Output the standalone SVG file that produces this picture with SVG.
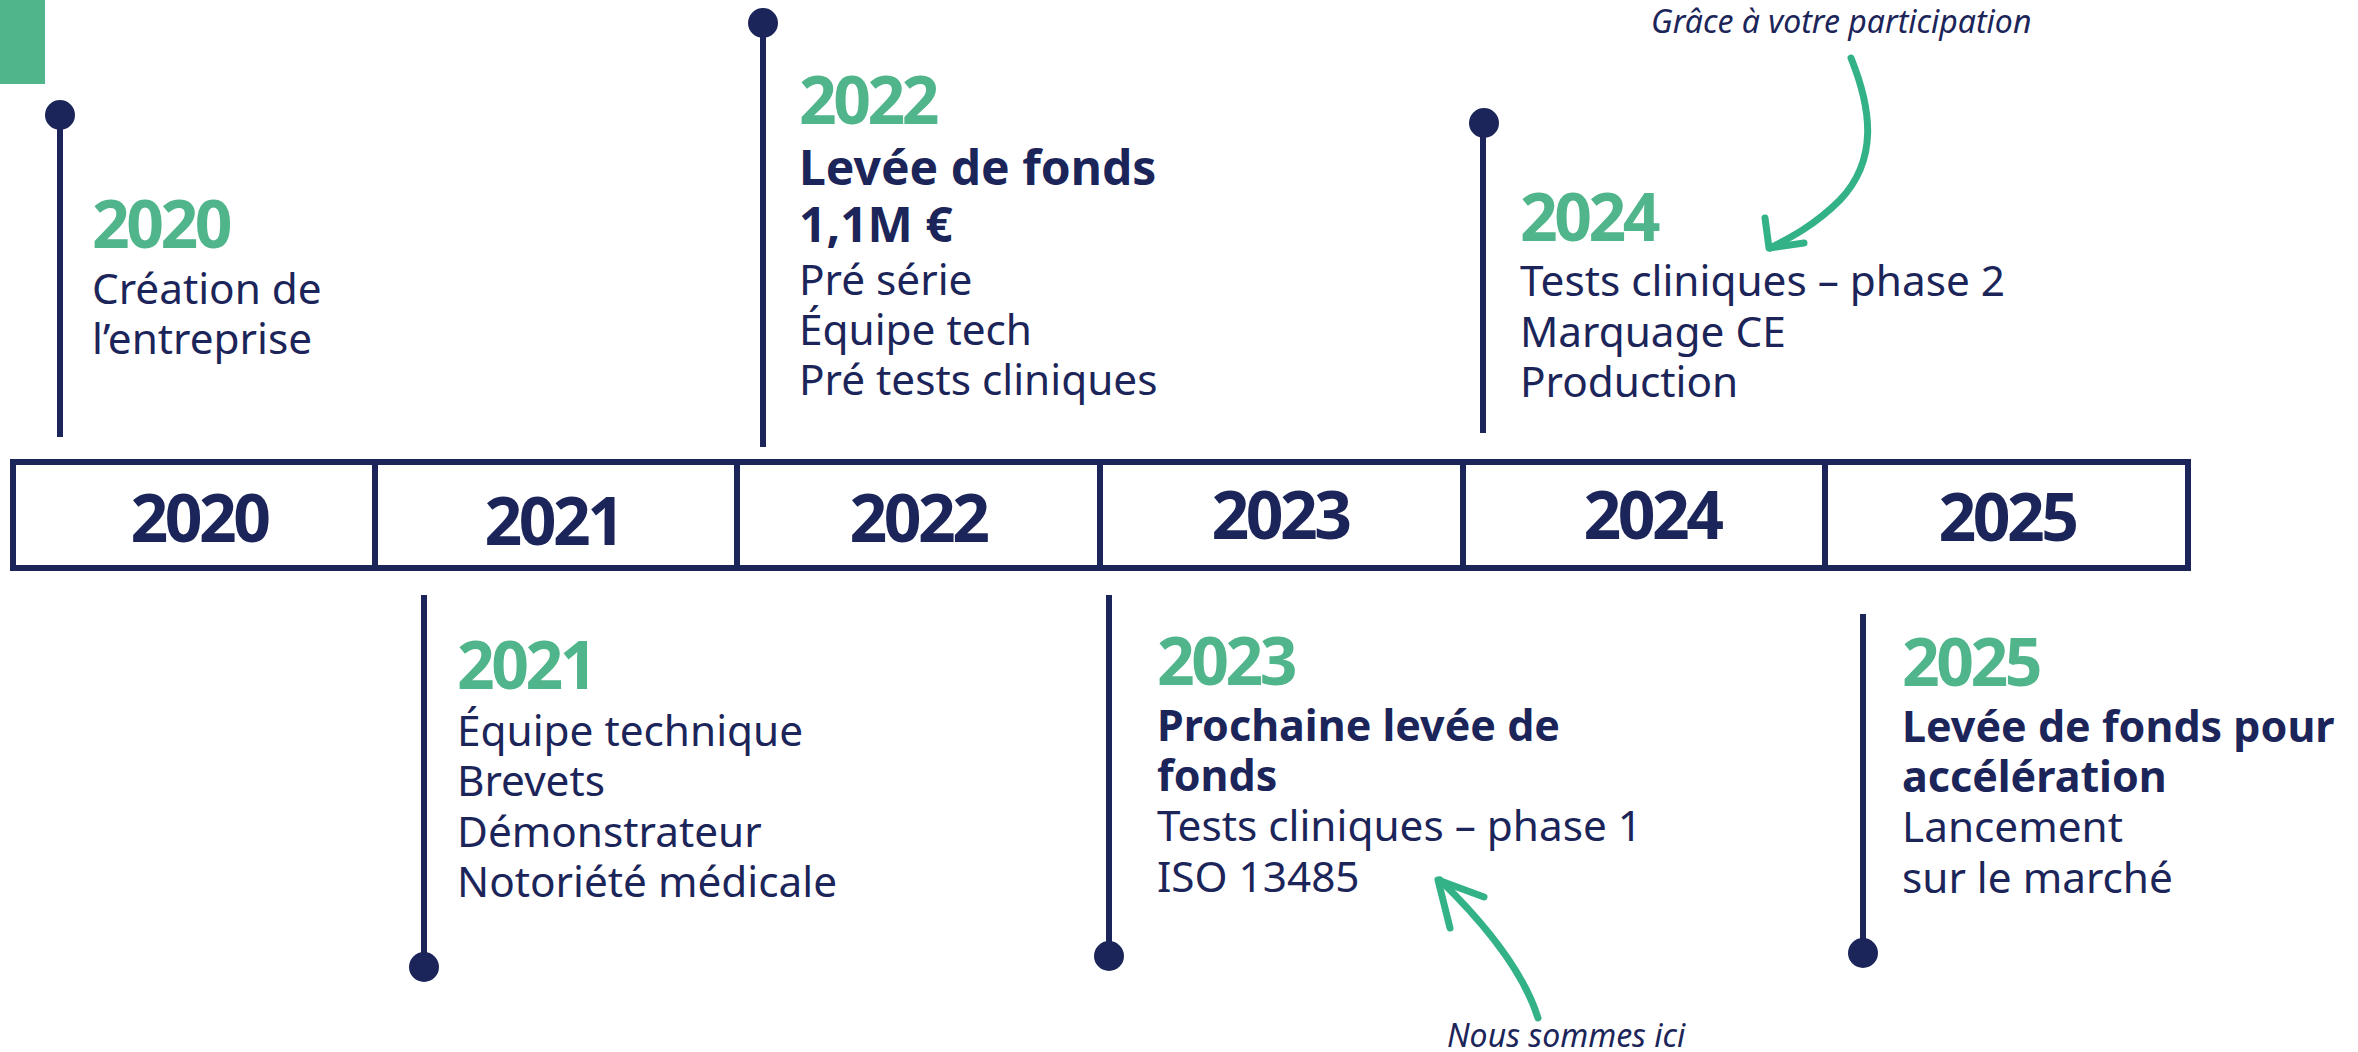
<svg xmlns="http://www.w3.org/2000/svg" width="2358" height="1052" viewBox="0 0 2358 1052">
<style>
text{font-family:"Noto Sans","Open Sans","DejaVu Sans",sans-serif;fill:#1c2559}
.yr{font-size:66px;font-weight:700;fill:#50b58b;letter-spacing:-3.5px}
.bar{font-size:66px;font-weight:700;letter-spacing:-3.5px;text-anchor:middle}
.b{font-size:42.3px;font-weight:400}
.bb{font-size:43px;font-weight:700}
.bb2{font-size:48px;font-weight:700}
.note{font-size:32px;font-style:italic}
.stem{stroke:#1c2559;stroke-width:6;fill:none}
.dot{fill:#1c2559}
.arr{stroke:#33b287;stroke-width:7;fill:none;stroke-linecap:round;stroke-linejoin:round}
</style>
<rect x="0" y="0" width="45" height="84" fill="#50b58b"/>

<g id="timeline-bar">
<rect x="13" y="462" width="2175" height="106" fill="none" stroke="#1c2559" stroke-width="6"/>
<g stroke="#1c2559" stroke-width="6">
<line x1="375" y1="462" x2="375" y2="568"/>
<line x1="737" y1="462" x2="737" y2="568"/>
<line x1="1100" y1="462" x2="1100" y2="568"/>
<line x1="1463" y1="462" x2="1463" y2="568"/>
<line x1="1825" y1="462" x2="1825" y2="568"/>
</g>
<text class="bar" x="199" y="542">2020</text>
<text class="bar" x="553" y="545">2021</text>
<text class="bar" x="918" y="542">2022</text>
<text class="bar" x="1280" y="539">2023</text>
<text class="bar" x="1652" y="539">2024</text>
<text class="bar" x="2007" y="541">2025</text>
</g>

<g id="m2020">
<line class="stem" x1="60" y1="115" x2="60" y2="437"/>
<circle class="dot" cx="60" cy="115" r="15"/>
<text class="yr" x="92" y="248">2020</text>
<text class="b" x="92" y="304">Création de</text>
<text class="b" x="92" y="354">l’entreprise</text>
</g>

<g id="m2021">
<line class="stem" x1="424" y1="595" x2="424" y2="967"/>
<circle class="dot" cx="424" cy="967" r="15"/>
<text class="yr" x="457" y="689">2021</text>
<text class="b" x="457" y="746">Équipe technique</text>
<text class="b" x="457" y="796">Brevets</text>
<text class="b" x="457" y="847">Démonstrateur</text>
<text class="b" x="457" y="897">Notoriété médicale</text>
</g>

<g id="m2022">
<line class="stem" x1="763" y1="23" x2="763" y2="447"/>
<circle class="dot" cx="763" cy="23" r="15"/>
<text class="yr" x="799" y="124">2022</text>
<text class="bb2" x="799" y="185">Levée de fonds</text>
<text class="bb2" x="799" y="242">1,1M €</text>
<text class="b" x="799" y="295">Pré série</text>
<text class="b" x="799" y="345">Équipe tech</text>
<text class="b" x="799" y="395">Pré tests cliniques</text>
</g>

<g id="m2023">
<line class="stem" x1="1109" y1="595" x2="1109" y2="956"/>
<circle class="dot" cx="1109" cy="956" r="15"/>
<text class="yr" x="1157" y="685">2023</text>
<text class="bb" x="1157" y="741">Prochaine levée de</text>
<text class="bb" x="1157" y="791">fonds</text>
<text class="b" x="1157" y="841">Tests cliniques – phase 1</text>
<text class="b" x="1157" y="892">ISO 13485</text>
</g>

<g id="m2024">
<line class="stem" x1="1483" y1="123" x2="1483" y2="433"/>
<circle class="dot" cx="1484" cy="123" r="15"/>
<text class="yr" x="1520" y="241">2024</text>
<text class="b" x="1520" y="296">Tests cliniques – phase 2</text>
<text class="b" x="1520" y="347">Marquage CE</text>
<text class="b" x="1520" y="397">Production</text>
</g>

<g id="m2025">
<line class="stem" x1="1863" y1="614" x2="1863" y2="953"/>
<circle class="dot" cx="1863" cy="953" r="15"/>
<text class="yr" x="1902" y="686">2025</text>
<text class="bb" x="1902" y="742">Levée de fonds pour</text>
<text class="bb" x="1902" y="792">accélération</text>
<text class="b" x="1902" y="842">Lancement</text>
<text class="b" x="1902" y="893">sur le marché</text>
</g>

<g id="note-top">
<text class="note" x="1651" y="33">Grâce à votre participation</text>
</g>
<g id="note-bottom">
<text class="note" x="1447" y="1047">Nous sommes ici</text>
</g>

<g id="connectors">
<path class="arr" d="M1851 58 C1872 110 1878 160 1840 200 C1815 225 1790 238 1770 248"/>
<path class="arr" d="M1765 218 L1769 248 L1804 243"/>
<path class="arr" d="M1538 1018 Q1519 957 1440 880"/>
<path class="arr" d="M1450 928 L1438 880 L1484 897"/>
</g>
</svg>
